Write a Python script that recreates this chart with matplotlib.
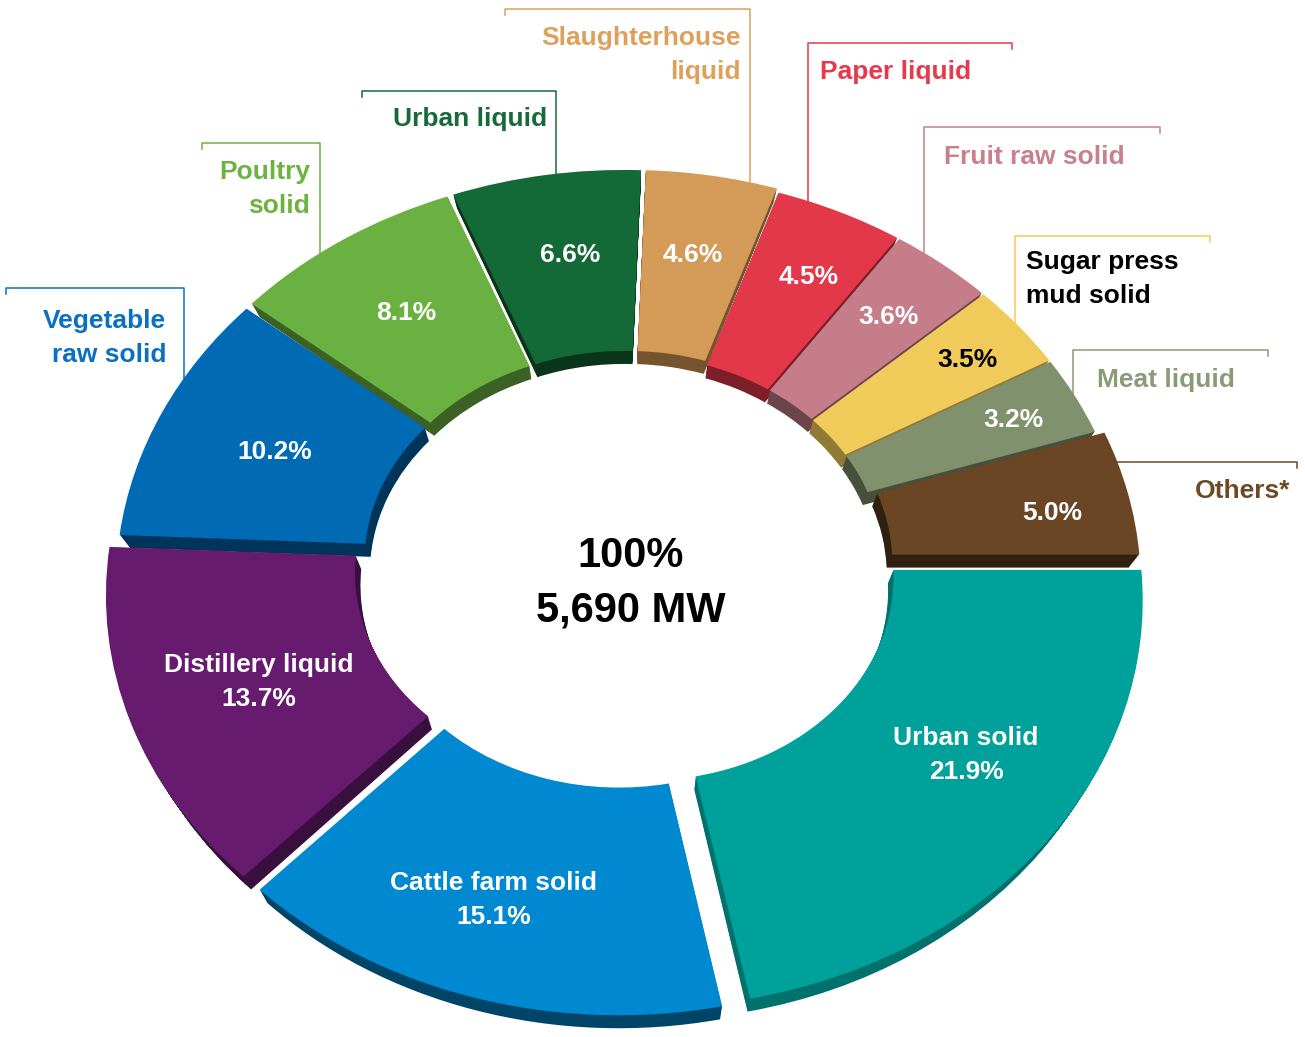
import matplotlib
matplotlib.use("Agg")
import matplotlib.pyplot as plt
import numpy as np
from matplotlib import transforms
from matplotlib.colors import to_rgb
from matplotlib.lines import Line2D

# --- data -------------------------------------------------------------
sources = [
    "Urban solid", "Cattle farm solid", "Distillery liquid",
    "Vegetable raw solid", "Poultry solid", "Urban liquid",
    "Slaughterhouse liquid", "Paper liquid", "Fruit raw solid",
    "Sugar press mud solid", "Meat liquid", "Others*",
]
shares = [21.9, 15.1, 13.7, 10.2, 8.1, 6.6, 4.6, 4.5, 3.6, 3.5, 3.2, 5.0]
total_mw = 5690

# --- style ------------------------------------------------------------
colors = ["#00A19B", "#0089D0", "#661B6F", "#006AB5", "#6BB141", "#146A36",
          "#D39A58", "#E23849", "#C57D89", "#F1CB59", "#81916D", "#6A4624"]
side_dark = [0.70, 0.50, 0.55, 0.50, 0.55, 0.50, 0.55, 0.55, 0.55, 0.60, 0.55, 0.45]
text_colors = ["#0B70C2", "#6CB33F", "#17693A", "#DFA05C", "#E8384B",
               "#C97F8C", "#000000", "#8A9B77", "#6B4A26"]
line_colors = ["#0B70C2", "#6CB33F", "#17693A", "#DFA05C", "#E8384B",
               "#C97F8C", "#F1CB59", "#8A9B77", "#6B4A26"]
explode = [0.05, 0.05, 0.05, 0.03, 0.03, 0.03, 0.03, 0.02, 0.02, 0.02, 0.02, 0.038]

W, H = 1305, 1037
CX, CY = 626, 557      # donut centre (pixels, from top)
RX, RY = 495, 404      # outer radius along x / y (pixels)
TILT = 0.0725          # perspective strength: far side smaller, near side larger
DEPTH = 13             # thickness of the extruded side (pixels)
SHRINK = 0.02          # bottom face drawn a bit narrower (perspective)
FONT = ["Liberation Sans", "DejaVu Sans"]


class Tilt(transforms.Transform):
    """Plane perspective: (x, y) -> (x, y) / (1 + t*y)."""
    input_dims = output_dims = 2
    has_inverse = True

    def __init__(self, t):
        super().__init__()
        self.t = t

    def transform_non_affine(self, values):
        v = np.asarray(values, dtype=float)
        return v / (1 + self.t * v[:, 1:2])

    def inverted(self):
        return Tilt(-self.t)


fig = plt.figure(figsize=(W / 100, H / 100), dpi=100)
ax = fig.add_axes([0, 0, 1, 1])
persp = Tilt(TILT)

pie_kw = dict(explode=explode, startangle=0, counterclock=False)

# extruded sides: darker copies stacked downward, squeezed toward the centre
shade = [tuple(c * f for c in to_rgb(col)) for col, f in zip(colors, side_dark)]
for d in range(DEPTH, 0, -1):
    s = 1 - SHRINK * d / DEPTH
    shift = (transforms.Affine2D().translate(-CX, -(H - CY))
             .scale(s, 1).translate(CX, H - CY - d))
    ax.pie(shares, colors=shade,
           wedgeprops=dict(width=0.5, linewidth=0,
                           transform=persp + ax.transData + shift), **pie_kw)

# top faces
ax.pie(shares, colors=colors,
       wedgeprops=dict(width=0.5, linewidth=0, transform=persp + ax.transData),
       **pie_kw)

ax.set_aspect("auto")
ax.set_xlim(-CX / RX, (W - CX) / RX)
ax.set_ylim((CY - H) / RY, CY / RY)
ax.axis("off")

# pixel coordinates (origin top-left) for labels and leader lines
pix = transforms.Affine2D().scale(1 / W, -1 / H).translate(0, 1) + fig.transFigure

# inside labels: (x, y of first line)
inner_pos = [(966, 738), (494, 883), (259, 665), (275, 452), (406, 313),
             (570, 255), (693, 255), (809, 277), (889, 317), (967, 360),
             (1013, 420), (1052, 513)]
for i, (name, val) in enumerate(zip(sources, shares)):
    lines = [name, f"{val:.1f}%"] if i < 3 else [f"{val:.1f}%"]
    x, y = inner_pos[i]
    col = "black" if name.startswith("Sugar") else "white"
    for j, s in enumerate(lines):
        fig.text(x, y + 34 * j, s, transform=pix, ha="center", va="center",
                 fontsize=19, fontweight="bold", color=col, family=FONT, zorder=5)

# outside labels with bracket leader lines
outer = [
    (["Vegetable", "raw solid"], 166, 321, "right",
     [(6, 294), (6, 288), (184, 288), (184, 400)]),
    (["Poultry", "solid"], 310, 172, "right",
     [(202, 149), (202, 143), (320, 143), (320, 280)]),
    (["Urban liquid"], 547, 119, "right",
     [(362, 97), (362, 91), (556, 91), (556, 210)]),
    (["Slaughterhouse", "liquid"], 741, 38, "right",
     [(505, 15), (505, 9), (750, 9), (750, 210)]),
    (["Paper liquid"], 820, 72, "left",
     [(1012, 49), (1012, 43), (808, 43), (808, 220)]),
    (["Fruit raw solid"], 944, 157, "left",
     [(1160, 133), (1160, 127), (924, 127), (924, 270)]),
    (["Sugar press", "mud solid"], 1026, 262, "left",
     [(1210, 242), (1210, 236), (1015, 236), (1015, 330)]),
    (["Meat liquid"], 1097, 380, "left",
     [(1268, 356), (1268, 350), (1073, 350), (1073, 410)]),
    (["Others*"], 1290, 491, "right",
     [(1297, 468), (1297, 462), (1100, 462)]),
]
for k, (lines, x, y, ha, pts) in enumerate(outer):
    for j, s in enumerate(lines):
        fig.text(x, y + 34 * j, s, transform=pix, ha=ha, va="center",
                 fontsize=19, fontweight="bold", color=text_colors[k], family=FONT)
    xs, ys = zip(*pts)
    ax.add_line(Line2D(xs, ys, transform=pix, color=line_colors[k], lw=1.1,
                       zorder=0.5, clip_on=False))

# centre total
fig.text(631, 556, f"{sum(shares):.0f}%", transform=pix, ha="center", va="center",
         fontsize=30, fontweight="bold", family=FONT)
fig.text(631, 611, f"{total_mw:,} MW", transform=pix, ha="center", va="center",
         fontsize=30, fontweight="bold", family=FONT)

fig.savefig("out.png", dpi=100)
